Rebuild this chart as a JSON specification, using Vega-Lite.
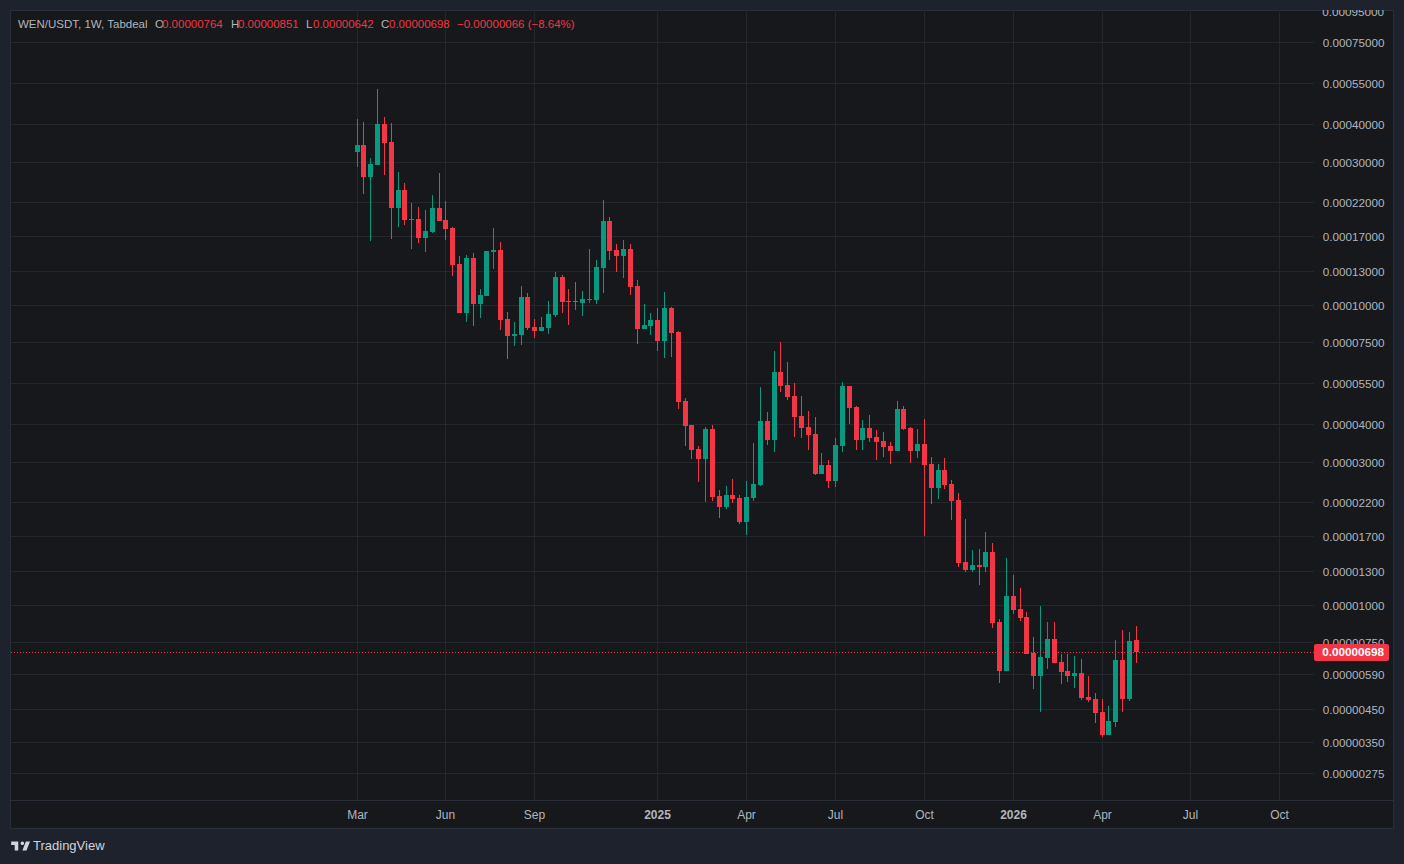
{
  "$schema": "https://vega.github.io/schema/vega-lite/v6.json",
  "width": 1383,
  "height": 818,
  "autosize": {"type": "none"},
  "padding": {"left": 10, "top": 10, "right": 11, "bottom": 36},
  "background": "#1e222d",
  "config": {"view": {"fill": "#16181b", "stroke": "#2a2e39"}},
  "datasets": {
    "candles": [
      {"date":"2024-03-04","open":0.0003236,"high":0.0004169,"low":0.0002884,"close":0.0003415},
      {"date":"2024-03-11","open":0.0003415,"high":0.0004074,"low":0.0002344,"close":0.0002671},
      {"date":"2024-03-18","open":0.0002671,"high":0.0003090,"low":0.0001634,"close":0.0002951},
      {"date":"2024-03-25","open":0.0002929,"high":0.0005248,"low":0.0002929,"close":0.0004012},
      {"date":"2024-04-01","open":0.0004012,"high":0.0004233,"low":0.0002712,"close":0.0003467},
      {"date":"2024-04-08","open":0.0003494,"high":0.0004043,"low":0.0001660,"close":0.0002105},
      {"date":"2024-04-15","open":0.0002105,"high":0.0002776,"low":0.0001820,"close":0.0002417},
      {"date":"2024-04-22","open":0.0002417,"high":0.0002551,"low":0.0001848,"close":0.0001920},
      {"date":"2024-04-29","open":0.0001920,"high":0.0002188,"low":0.0001537,"close":0.0001935},
      {"date":"2024-05-06","open":0.0001935,"high":0.0002121,"low":0.0001610,"close":0.0001673},
      {"date":"2024-05-13","open":0.0001673,"high":0.0002073,"low":0.0001502,"close":0.0001765},
      {"date":"2024-05-20","open":0.0001752,"high":0.0002326,"low":0.0001738,"close":0.0002105},
      {"date":"2024-05-27","open":0.0002105,"high":0.0002754,"low":0.0001905,"close":0.0001905},
      {"date":"2024-06-03","open":0.0001920,"high":0.0002221,"low":0.0001647,"close":0.0001792},
      {"date":"2024-06-10","open":0.0001806,"high":0.0001820,"low":0.0001249,"close":0.0001359},
      {"date":"2024-06-17","open":0.0001370,"high":0.0001457,"low":0.00009404,"close":0.00009404},
      {"date":"2024-06-24","open":0.00009404,"high":0.0001468,"low":0.00008777,"close":0.0001435},
      {"date":"2024-07-01","open":0.0001435,"high":0.0001491,"low":0.00008511,"close":0.0001008},
      {"date":"2024-07-08","open":0.0001008,"high":0.0001131,"low":0.00009050,"close":0.0001080},
      {"date":"2024-07-15","open":0.0001072,"high":0.0001514,"low":0.0001072,"close":0.0001514},
      {"date":"2024-07-22","open":0.0001502,"high":0.0001806,"low":0.0001318,"close":0.0001525},
      {"date":"2024-07-29","open":0.0001525,"high":0.0001622,"low":0.00008253,"close":0.00008913},
      {"date":"2024-08-05","open":0.00008981,"high":0.00009477,"low":0.00006607,"close":0.00007882},
      {"date":"2024-08-12","open":0.00007882,"high":0.00008777,"low":0.00007300,"close":0.00008004},
      {"date":"2024-08-19","open":0.00007943,"high":0.0001157,"low":0.00007356,"close":0.0001063},
      {"date":"2024-08-26","open":0.0001063,"high":0.0001096,"low":0.00008253,"close":0.00008381},
      {"date":"2024-09-02","open":0.00008447,"high":0.00008981,"low":0.00007762,"close":0.00008190},
      {"date":"2024-09-09","open":0.00008190,"high":0.00009120,"low":0.00008190,"close":0.00008447},
      {"date":"2024-09-16","open":0.00008381,"high":0.0001031,"low":0.00008004,"close":0.00009333},
      {"date":"2024-09-23","open":0.00009261,"high":0.0001288,"low":0.00009120,"close":0.0001240},
      {"date":"2024-09-30","open":0.0001240,"high":0.0001259,"low":0.00009404,"close":0.0001023},
      {"date":"2024-10-07","open":0.0001031,"high":0.0001131,"low":0.00008577,"close":0.0001023},
      {"date":"2024-10-14","open":0.0001031,"high":0.0001193,"low":0.00009623,"close":0.0001023},
      {"date":"2024-10-21","open":0.0001015,"high":0.0001113,"low":0.00009190,"close":0.0001047},
      {"date":"2024-10-28","open":0.0001039,"high":0.0001537,"low":0.0001015,"close":0.0001047},
      {"date":"2024-11-04","open":0.0001039,"high":0.0001413,"low":0.0001008,"close":0.0001339},
      {"date":"2024-11-11","open":0.0001329,"high":0.0002239,"low":0.0001096,"close":0.0001905},
      {"date":"2024-11-18","open":0.0001905,"high":0.0001965,"low":0.0001413,"close":0.0001514},
      {"date":"2024-11-25","open":0.0001525,"high":0.0001597,"low":0.0001288,"close":0.0001457},
      {"date":"2024-12-02","open":0.0001457,"high":0.0001647,"low":0.0001230,"close":0.0001537},
      {"date":"2024-12-09","open":0.0001537,"high":0.0001597,"low":0.0001080,"close":0.0001148},
      {"date":"2024-12-16","open":0.0001157,"high":0.0001212,"low":0.00007413,"close":0.00008318},
      {"date":"2024-12-23","open":0.00008318,"high":0.0001008,"low":0.00008318,"close":0.00008577},
      {"date":"2024-12-30","open":0.00008511,"high":0.00009404,"low":0.00007943,"close":0.00008913},
      {"date":"2025-01-06","open":0.00008913,"high":0.00009772,"low":0.00007026,"close":0.00007586},
      {"date":"2025-01-13","open":0.00007586,"high":0.0001105,"low":0.00006658,"close":0.00009772},
      {"date":"2025-01-20","open":0.00009772,"high":0.00009848,"low":0.00006709,"close":0.00008066},
      {"date":"2025-01-27","open":0.00008128,"high":0.00008190,"low":0.00004501,"close":0.00004750},
      {"date":"2025-02-03","open":0.00004786,"high":0.00004898,"low":0.00003388,"close":0.00003950},
      {"date":"2025-02-10","open":0.00003981,"high":0.00003981,"low":0.00003067,"close":0.00003286},
      {"date":"2025-02-17","open":0.00003311,"high":0.00003388,"low":0.00002570,"close":0.00003067},
      {"date":"2025-02-24","open":0.00003067,"high":0.00003920,"low":0.00002205,"close":0.00003861},
      {"date":"2025-03-03","open":0.00003861,"high":0.00003981,"low":0.00002221,"close":0.00002291},
      {"date":"2025-03-10","open":0.00002308,"high":0.00002417,"low":0.00001950,"close":0.00002121},
      {"date":"2025-03-17","open":0.00002121,"high":0.00002493,"low":0.00002089,"close":0.00002326},
      {"date":"2025-03-24","open":0.00002326,"high":0.00002630,"low":0.00002188,"close":0.00002256},
      {"date":"2025-03-31","open":0.00002273,"high":0.00002326,"low":0.00001862,"close":0.00001891},
      {"date":"2025-04-07","open":0.00001891,"high":0.00002590,"low":0.00001711,"close":0.00002291},
      {"date":"2025-04-14","open":0.00002273,"high":0.00003467,"low":0.00002221,"close":0.00002531},
      {"date":"2025-04-21","open":0.00002512,"high":0.00005329,"low":0.00002493,"close":0.00004105},
      {"date":"2025-04-28","open":0.00004105,"high":0.00004399,"low":0.00003415,"close":0.00003548},
      {"date":"2025-05-05","open":0.00003548,"high":0.00007026,"low":0.00003236,"close":0.00005980},
      {"date":"2025-05-12","open":0.00005980,"high":0.00007528,"low":0.00005129,"close":0.00005370},
      {"date":"2025-05-19","open":0.00005412,"high":0.00006457,"low":0.00004823,"close":0.00004935},
      {"date":"2025-05-26","open":0.00004973,"high":0.00005495,"low":0.00003631,"close":0.00004233},
      {"date":"2025-06-02","open":0.00004266,"high":0.00004973,"low":0.00003603,"close":0.00003890},
      {"date":"2025-06-09","open":0.00003920,"high":0.00004433,"low":0.00003286,"close":0.00003687},
      {"date":"2025-06-16","open":0.00003715,"high":0.00004233,"low":0.00002712,"close":0.00002733},
      {"date":"2025-06-23","open":0.00002733,"high":0.00003211,"low":0.00002733,"close":0.00002929},
      {"date":"2025-06-30","open":0.00002929,"high":0.00003043,"low":0.00002455,"close":0.00002590},
      {"date":"2025-07-07","open":0.00002590,"high":0.00003603,"low":0.00002474,"close":0.00003415},
      {"date":"2025-07-14","open":0.00003388,"high":0.00005538,"low":0.00003236,"close":0.00005370},
      {"date":"2025-07-21","open":0.00005370,"high":0.00005370,"low":0.00004012,"close":0.00004536},
      {"date":"2025-07-28","open":0.00004571,"high":0.00004606,"low":0.00003286,"close":0.00003548},
      {"date":"2025-08-04","open":0.00003548,"high":0.00004137,"low":0.00003286,"close":0.00003890},
      {"date":"2025-08-11","open":0.00003890,"high":0.00004299,"low":0.00003494,"close":0.00003603},
      {"date":"2025-08-18","open":0.00003631,"high":0.00003831,"low":0.00003043,"close":0.00003494},
      {"date":"2025-08-25","open":0.00003521,"high":0.00003773,"low":0.00003114,"close":0.00003362},
      {"date":"2025-09-01","open":0.00003388,"high":0.00003494,"low":0.00002951,"close":0.00003261},
      {"date":"2025-09-08","open":0.00003261,"high":0.00004786,"low":0.00003261,"close":0.00004501},
      {"date":"2025-09-15","open":0.00004501,"high":0.00004606,"low":0.00003831,"close":0.00003861},
      {"date":"2025-09-22","open":0.00003890,"high":0.00003920,"low":0.00002974,"close":0.00003261},
      {"date":"2025-09-29","open":0.00003261,"high":0.00003861,"low":0.00003090,"close":0.00003441},
      {"date":"2025-10-06","open":0.00003441,"high":0.00004169,"low":0.00001698,"close":0.00002929},
      {"date":"2025-10-13","open":0.00002951,"high":0.00003114,"low":0.00002171,"close":0.00002455},
      {"date":"2025-10-20","open":0.00002455,"high":0.00002951,"low":0.00002256,"close":0.00002818},
      {"date":"2025-10-27","open":0.00002818,"high":0.00003090,"low":0.00002436,"close":0.00002512},
      {"date":"2025-11-03","open":0.00002531,"high":0.00002610,"low":0.00001920,"close":0.00002221},
      {"date":"2025-11-10","open":0.00002239,"high":0.00002362,"low":0.00001339,"close":0.00001380},
      {"date":"2025-11-17","open":0.00001391,"high":0.00001935,"low":0.00001288,"close":0.00001308},
      {"date":"2025-11-24","open":0.00001308,"high":0.00001525,"low":0.00001288,"close":0.00001359},
      {"date":"2025-12-01","open":0.00001359,"high":0.00001537,"low":0.00001166,"close":0.00001339},
      {"date":"2025-12-08","open":0.00001339,"high":0.00001752,"low":0.00001288,"close":0.00001502},
      {"date":"2025-12-15","open":0.00001502,"high":0.00001610,"low":0.000008381,"close":0.000008710},
      {"date":"2025-12-22","open":0.000008777,"high":0.000008981,"low":0.000005495,"close":0.000006026},
      {"date":"2025-12-29","open":0.000006026,"high":0.00001435,"low":0.000006026,"close":0.00001072},
      {"date":"2026-01-05","open":0.00001072,"high":0.00001259,"low":0.000009333,"close":0.000009623},
      {"date":"2026-01-12","open":0.000009698,"high":0.00001139,"low":0.000008844,"close":0.000009050},
      {"date":"2026-01-19","open":0.000009120,"high":0.000009477,"low":0.000006866,"close":0.000006866},
      {"date":"2026-01-26","open":0.000006918,"high":0.000007822,"low":0.000005248,"close":0.000005799},
      {"date":"2026-02-02","open":0.000005799,"high":0.000009924,"low":0.000004399,"close":0.000006709},
      {"date":"2026-02-09","open":0.000006658,"high":0.000008777,"low":0.000006119,"close":0.000007703},
      {"date":"2026-02-16","open":0.000007703,"high":0.000008777,"low":0.000006407,"close":0.000006407},
      {"date":"2026-02-23","open":0.000006457,"high":0.000006866,"low":0.000005454,"close":0.000005980},
      {"date":"2026-03-02","open":0.000006026,"high":0.000006866,"low":0.000005538,"close":0.000005799},
      {"date":"2026-03-09","open":0.000005799,"high":0.000006761,"low":0.000005289,"close":0.000005934},
      {"date":"2026-03-16","open":0.000005934,"high":0.000006607,"low":0.000004823,"close":0.000004898},
      {"date":"2026-03-23","open":0.000004935,"high":0.000005799,"low":0.000004750,"close":0.000004823},
      {"date":"2026-03-30","open":0.000004860,"high":0.000005090,"low":0.000004043,"close":0.000004365},
      {"date":"2026-04-06","open":0.000004399,"high":0.000004860,"low":0.000003631,"close":0.000003687},
      {"date":"2026-04-13","open":0.000003687,"high":0.000004606,"low":0.000003687,"close":0.000004105},
      {"date":"2026-04-20","open":0.000004074,"high":0.000007644,"low":0.000003920,"close":0.000006556},
      {"date":"2026-04-27","open":0.000006556,"high":0.000008253,"low":0.000004399,"close":0.000004860},
      {"date":"2026-05-04","open":0.000004860,"high":0.000008128,"low":0.000004786,"close":0.000007586},
      {"date":"2026-05-11","open":0.00000764,"high":0.00000851,"low":0.00000642,"close":0.00000698}
    ],
    "priceGrid": [
      {"price":0.00075,"from":"2023-03-15","to":"2026-11-10"},
      {"price":0.00055,"from":"2023-03-15","to":"2026-11-10"},
      {"price":0.0004,"from":"2023-03-15","to":"2026-11-10"},
      {"price":0.0003,"from":"2023-03-15","to":"2026-11-10"},
      {"price":0.00022,"from":"2023-03-15","to":"2026-11-10"},
      {"price":0.00017,"from":"2023-03-15","to":"2026-11-10"},
      {"price":0.00013,"from":"2023-03-15","to":"2026-11-10"},
      {"price":0.0001,"from":"2023-03-15","to":"2026-11-10"},
      {"price":0.000075,"from":"2023-03-15","to":"2026-11-10"},
      {"price":0.000055,"from":"2023-03-15","to":"2026-11-10"},
      {"price":0.00004,"from":"2023-03-15","to":"2026-11-10"},
      {"price":0.00003,"from":"2023-03-15","to":"2026-11-10"},
      {"price":0.000022,"from":"2023-03-15","to":"2026-11-10"},
      {"price":0.000017,"from":"2023-03-15","to":"2026-11-10"},
      {"price":0.000013,"from":"2023-03-15","to":"2026-11-10"},
      {"price":0.00001,"from":"2023-03-15","to":"2026-11-10"},
      {"price":0.0000075,"from":"2023-03-15","to":"2026-11-10"},
      {"price":0.0000059,"from":"2023-03-15","to":"2026-11-10"},
      {"price":0.0000045,"from":"2023-03-15","to":"2026-11-10"},
      {"price":0.0000035,"from":"2023-03-15","to":"2026-11-10"},
      {"price":0.00000275,"from":"2023-03-15","to":"2026-11-10"}
    ],
    "dateGrid": [
      {"date":"2024-03-04","top":0.000962,"bottom":0.000002239},
      {"date":"2024-06-03","top":0.000962,"bottom":0.000002239},
      {"date":"2024-09-02","top":0.000962,"bottom":0.000002239},
      {"date":"2025-01-06","top":0.000962,"bottom":0.000002239},
      {"date":"2025-04-07","top":0.000962,"bottom":0.000002239},
      {"date":"2025-07-07","top":0.000962,"bottom":0.000002239},
      {"date":"2025-10-06","top":0.000962,"bottom":0.000002239},
      {"date":"2026-01-05","top":0.000962,"bottom":0.000002239},
      {"date":"2026-04-06","top":0.000962,"bottom":0.000002239},
      {"date":"2026-07-06","top":0.000962,"bottom":0.000002239},
      {"date":"2026-10-05","top":0.000962,"bottom":0.000002239}
    ],
    "lastPrice": [
      {"from":"2023-03-16","to":"2026-11-10","tagEnd":"2027-01-25T14:00:00Z","labelAt":"2027-01-20T14:00:00Z","price":0.00000698,"tagTop":0.00000741,"tagBottom":0.0000065,"label":"0.00000698"}
    ],
    "legend": [
      {"text":"WEN/USDT, 1W, Tabdeal","kind":"name","date":"2023-03-23","price":0.0008577},
      {"text":"O","kind":"name","date":"2023-08-11","price":0.0008577},
      {"text":"0.00000764","kind":"value","date":"2023-08-18","price":0.0008577},
      {"text":"H","kind":"name","date":"2023-10-27","price":0.0008577},
      {"text":"0.00000851","kind":"value","date":"2023-11-04","price":0.0008577},
      {"text":"L","kind":"name","date":"2024-01-12","price":0.0008577},
      {"text":"0.00000642","kind":"value","date":"2024-01-19","price":0.0008577},
      {"text":"C","kind":"name","date":"2024-03-29","price":0.0008577},
      {"text":"0.00000698","kind":"value","date":"2024-04-06","price":0.0008577},
      {"text":"−0.00000066 (−8.64%)","kind":"value","date":"2024-06-15","price":0.0008577}
    ]
  },
  "layer": [
    {
      "data": {"name": "priceGrid"},
      "mark": {"type": "rule", "stroke": "#24272b", "strokeWidth": 1, "xOffset": 0.5, "yOffset": 0.5},
      "encoding": {
        "x": {
          "field": "from",
          "type": "temporal",
          "scale": {"type": "utc", "domain": ["2023-03-15", "2027-01-29T12:00:00Z"], "nice": false, "round": true, "padding": 0},
          "axis": {
            "title": null,
            "orient": "bottom",
            "offset": -28,
            "values": ["2024-03-04", "2024-06-03", "2024-09-02", "2025-01-06", "2025-04-07", "2025-07-07", "2025-10-06", "2026-01-05", "2026-04-06", "2026-07-06", "2026-10-05"],
            "labelExpr": "utcFormat(datum.value, utcmonth(datum.value) == 0 ? '%Y' : '%b')",
            "labelFontWeight": {"condition": {"test": "utcmonth(datum.value) == 0", "value": "bold"}, "value": "normal"},
            "labelFont": "Liberation Sans",
            "labelFontSize": 12,
            "labelColor": "#b2b5be",
            "labelPadding": 9,
            "labelOverlap": false,
            "labelFlush": false,
            "ticks": false,
            "tickSize": 0,
            "grid": false,
            "domain": true,
            "domainColor": "#2a2e39",
            "domainWidth": 1
          }
        },
        "x2": {"field": "to"},
        "y": {
          "field": "price",
          "type": "quantitative",
          "scale": {"type": "log", "domain": [0.000001806, 0.000962], "nice": false, "round": true, "padding": 0},
          "axis": {
            "title": null,
            "orient": "right",
            "values": [0.00075, 0.00055, 0.0004, 0.0003, 0.00022, 0.00017, 0.00013, 0.0001, 0.000075, 0.000055, 0.00004, 0.00003, 0.000022, 0.000017, 0.000013, 0.00001, 0.0000075, 0.0000059, 0.0000045, 0.0000035, 0.00000275],
            "format": ".8f",
            "labelFont": "Liberation Sans",
            "labelFontSize": 11.7,
            "labelColor": "#b2b5be",
            "labelAlign": "right",
            "labelPadding": -9,
            "labelOverlap": false,
            "labelFlush": false,
            "ticks": false,
            "tickSize": 0,
            "grid": false,
            "domain": false
          }
        }
      }
    },
    {
      "data": {"name": "dateGrid"},
      "mark": {"type": "rule", "stroke": "#24272b", "strokeWidth": 1, "xOffset": 0.5},
      "encoding": {
        "x": {"field": "date", "type": "temporal", "scale": {"type": "utc", "domain": ["2023-03-15", "2027-01-29T12:00:00Z"], "nice": false, "round": true, "padding": 0}},
        "y": {"field": "top", "type": "quantitative", "scale": {"type": "log", "domain": [0.000001806, 0.000962], "nice": false, "round": true, "padding": 0}},
        "y2": {"field": "bottom"}
      }
    },
    {
      "data": {"name": "candles"},
      "mark": {"type": "rule", "strokeWidth": 1, "xOffset": 0.5},
      "encoding": {
        "x": {"field": "date", "type": "temporal", "scale": {"type": "utc", "domain": ["2023-03-15", "2027-01-29T12:00:00Z"], "nice": false, "round": true, "padding": 0}},
        "y": {"field": "high", "type": "quantitative", "scale": {"type": "log", "domain": [0.000001806, 0.000962], "nice": false, "round": true, "padding": 0}},
        "y2": {"field": "low"},
        "color": {"condition": {"test": "datum.close >= datum.open", "value": "#089981"}, "value": "#f23645"}
      }
    },
    {
      "data": {"name": "candles"},
      "mark": {"type": "bar", "size": 5, "xOffset": 0.5},
      "encoding": {
        "x": {"field": "date", "type": "temporal", "scale": {"type": "utc", "domain": ["2023-03-15", "2027-01-29T12:00:00Z"], "nice": false, "round": true, "padding": 0}},
        "y": {"field": "open", "type": "quantitative", "scale": {"type": "log", "domain": [0.000001806, 0.000962], "nice": false, "round": true, "padding": 0}},
        "y2": {"field": "close"},
        "color": {"condition": {"test": "datum.close >= datum.open", "value": "#089981"}, "value": "#f23645"}
      }
    },
    {
      "data": {"name": "lastPrice"},
      "mark": {"type": "rule", "stroke": "#f23645", "strokeWidth": 1, "strokeDash": [1, 2], "yOffset": 0.5},
      "encoding": {
        "x": {"field": "from", "type": "temporal", "scale": {"type": "utc", "domain": ["2023-03-15", "2027-01-29T12:00:00Z"], "nice": false, "round": true, "padding": 0}},
        "x2": {"field": "to"},
        "y": {"field": "price", "type": "quantitative", "scale": {"type": "log", "domain": [0.000001806, 0.000962], "nice": false, "round": true, "padding": 0}}
      }
    },
    {
      "data": {"name": "lastPrice"},
      "mark": {"type": "rect", "fill": "#f23645", "cornerRadius": 2},
      "encoding": {
        "x": {"field": "to", "type": "temporal", "scale": {"type": "utc", "domain": ["2023-03-15", "2027-01-29T12:00:00Z"], "nice": false, "round": true, "padding": 0}},
        "x2": {"field": "tagEnd"},
        "y": {"field": "tagTop", "type": "quantitative", "scale": {"type": "log", "domain": [0.000001806, 0.000962], "nice": false, "round": true, "padding": 0}},
        "y2": {"field": "tagBottom"}
      }
    },
    {
      "data": {"name": "lastPrice"},
      "mark": {"type": "text", "align": "right", "baseline": "middle", "font": "Liberation Sans", "fontSize": 11.7, "fontWeight": "bold", "fill": "#ffffff"},
      "encoding": {
        "x": {"field": "labelAt", "type": "temporal", "scale": {"type": "utc", "domain": ["2023-03-15", "2027-01-29T12:00:00Z"], "nice": false, "round": true, "padding": 0}},
        "y": {"field": "price", "type": "quantitative", "scale": {"type": "log", "domain": [0.000001806, 0.000962], "nice": false, "round": true, "padding": 0}},
        "text": {"field": "label"}
      }
    },
    {
      "data": {"values": [{"date": "2027-01-20T14:00:00Z", "price": 0.00095, "label": "0.00095000"}]},
      "mark": {"type": "text", "clip": true, "align": "right", "baseline": "middle", "font": "Liberation Sans", "fontSize": 11.7, "fill": "#b2b5be"},
      "encoding": {
        "x": {"field": "date", "type": "temporal", "scale": {"type": "utc", "domain": ["2023-03-15", "2027-01-29T12:00:00Z"], "nice": false, "round": true, "padding": 0}},
        "y": {"field": "price", "type": "quantitative", "scale": {"type": "log", "domain": [0.000001806, 0.000962], "nice": false, "round": true, "padding": 0}},
        "text": {"field": "label"}
      }
    },
    {
      "data": {"name": "legend"},
      "mark": {"type": "text", "align": "left", "baseline": "middle", "font": "Liberation Sans", "fontSize": 11.5},
      "encoding": {
        "x": {"field": "date", "type": "temporal", "scale": {"type": "utc", "domain": ["2023-03-15", "2027-01-29T12:00:00Z"], "nice": false, "round": true, "padding": 0}},
        "y": {"field": "price", "type": "quantitative", "scale": {"type": "log", "domain": [0.000001806, 0.000962], "nice": false, "round": true, "padding": 0}},
        "text": {"field": "text"},
        "color": {"field": "kind", "type": "nominal", "legend": null, "scale": {"domain": ["name", "value"], "range": ["#b2b5be", "#f23645"]}}
      }
    },
    {
      "data": {"values": [{"date": "2023-04-08", "price": 0.000001573, "label": "TradingView"}]},
      "mark": {"type": "text", "clip": false, "align": "left", "baseline": "middle", "font": "Liberation Sans", "fontSize": 13, "fontWeight": 500, "fill": "#d1d4dc"},
      "encoding": {
        "x": {"field": "date", "type": "temporal", "scale": {"type": "utc", "domain": ["2023-03-15", "2027-01-29T12:00:00Z"], "nice": false, "round": true, "padding": 0}},
        "y": {"field": "price", "type": "quantitative", "scale": {"type": "log", "domain": [0.000001806, 0.000962], "nice": false, "round": true, "padding": 0}},
        "text": {"field": "label"}
      }
    },
    {
      "data": {"values": [{"date": "2023-03-25", "price": 0.000001573}]},
      "mark": {
        "type": "point",
        "filled": true,
        "size": 400,
        "opacity": 1,
        "fill": "#d1d4dc",
        "shape": "M-0.176 -0.441H-0.882V-0.088H-0.529V0.441H-0.176ZM0.647 0.441H0.235L0.588 -0.441H1ZM0.235 -0.088A0.176 0.176 0 1 0 0.235 -0.441A0.176 0.176 0 0 0 0.235 -0.088Z"
      },
      "encoding": {
        "x": {"field": "date", "type": "temporal", "scale": {"type": "utc", "domain": ["2023-03-15", "2027-01-29T12:00:00Z"], "nice": false, "round": true, "padding": 0}},
        "y": {"field": "price", "type": "quantitative", "scale": {"type": "log", "domain": [0.000001806, 0.000962], "nice": false, "round": true, "padding": 0}}
      }
    }
  ]
}
